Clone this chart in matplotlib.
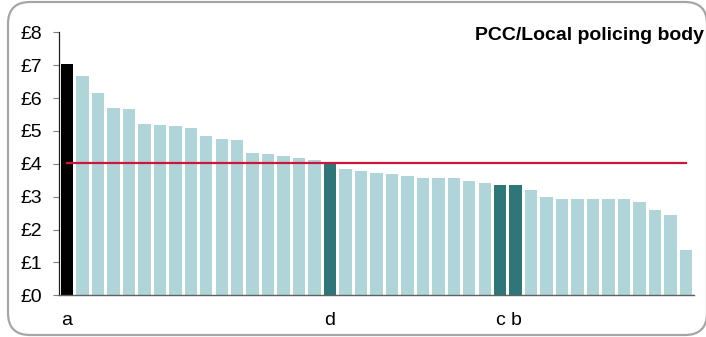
import matplotlib

matplotlib.use("Agg")
import matplotlib.pyplot as plt
from matplotlib.patches import FancyBboxPatch

# values (£ per head)
values = [7.03, 6.67, 6.16, 5.69, 5.67, 5.21, 5.19, 5.15, 5.08, 4.84,
          4.76, 4.72, 4.32, 4.30, 4.23, 4.17, 4.13, 4.01, 3.84, 3.78,
          3.73, 3.69, 3.62, 3.58, 3.58, 3.58, 3.48, 3.41, 3.36, 3.36,
          3.19, 2.98, 2.93, 2.93, 2.92, 2.92, 2.92, 2.83, 2.60, 2.45,
          1.39]
labels = {0: "a", 17: "d", 28: "c", 29: "b"}
highlight_dark = [17, 28, 29]
highlight_black = [0]
average = 4.01
y_ticks = list(range(0, 9))
y_labels = [f"£{v}" for v in y_ticks]
title = "PCC/Local policing body"

LIGHT = "#b0d5d8"
DARK = "#2f7679"
RED = "#d2143a"

plt.rcParams["font.family"] = ["Liberation Sans", "DejaVu Sans"]

W, H = 706, 337
fig = plt.figure(figsize=(W / 100, H / 100), dpi=100)
ax = fig.add_axes([59.3 / W, (H - 295.3) / H, 634.3 / W, 263 / H])

x = list(range(len(values)))
colors = []
for i in x:
    if i in highlight_black:
        colors.append("black")
    elif i in highlight_dark:
        colors.append(DARK)
    else:
        colors.append(LIGHT)
ax.bar(x, values, width=0.8, color=colors, zorder=2)
ax.plot([x[0], x[-1]], [average, average], color=RED, lw=1.6, zorder=3)

ax.set_xlim(-0.5, len(values) - 0.5)
ax.set_ylim(0, 8)
ax.set_yticks(y_ticks)
ax.set_yticklabels(y_labels, fontsize=14)
ax.tick_params(axis="y", length=4.3, width=0.8, color="#808080", pad=8)

ax.set_xticks(list(labels.keys()))
ax.set_xticklabels(list(labels.values()), fontsize=14)
ax.tick_params(axis="x", length=0, pad=12)

for s in ["top", "right"]:
    ax.spines[s].set_visible(False)
ax.spines["left"].set_color("#202020")
ax.spines["left"].set_linewidth(0.9)
ax.spines["bottom"].set_color("#606060")
ax.spines["bottom"].set_linewidth(1.0)

fig.text(704 / W, 1 - 36 / H, title, ha="right", va="center",
         fontsize=14, fontweight="bold")

frame = FancyBboxPatch((8, 2), 699, 333, boxstyle="round,pad=0,rounding_size=22",
                       transform=None, facecolor="none", edgecolor="#a6a6a6",
                       linewidth=1.6)
fig.patches.append(frame)

fig.savefig("out.png", dpi=100)
plt.close(fig)
